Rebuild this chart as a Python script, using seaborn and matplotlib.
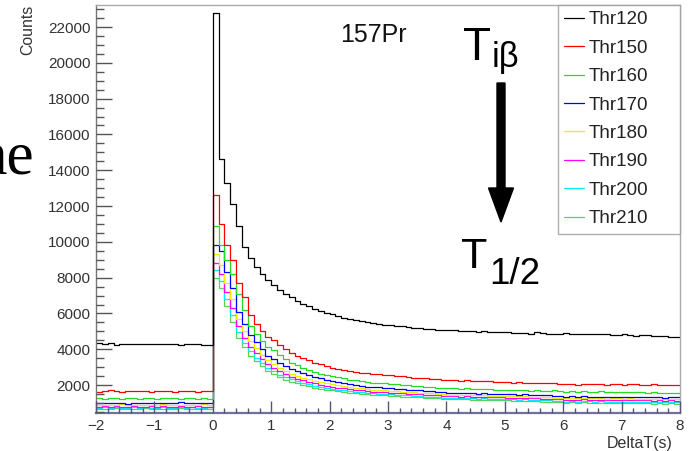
import numpy as np
import pandas as pd
import matplotlib
matplotlib.use("Agg")
import matplotlib.pyplot as plt
import seaborn as sns
from matplotlib.patches import FancyArrow
from matplotlib.transforms import IdentityTransform
from matplotlib.ticker import MultipleLocator

# ---------------- data (counts per 0.1 s bin, DeltaT from -2 to 8 s) ----------------
x_min, x_max, n_bins = -2.0, 8.0, 100

series_names = ["Thr120", "Thr150", "Thr160", "Thr170", "Thr180", "Thr190", "Thr200", "Thr210"]
series_colors = ["#000000", "#ff0000", "#22dd22", "#0000ff", "#eeee00", "#ff00ff", "#00eeee", "#59d454"]

thr120 = [4330, 4280, 4340, 4250, 4300, 4290, 4310, 4270, 4300, 4320, 4290, 4300, 4280, 4310, 4230, 4300, 4290, 4310, 4260, 4230,
          22800, 14600, 13300, 12100, 10900, 9700, 9100, 8600, 8200, 7850, 7600, 7300, 7100, 6900, 6700, 6550, 6400, 6250, 6150, 6050,
          5950, 5850, 5750, 5680, 5620, 5570, 5540, 5480, 5430, 5380, 5350, 5300, 5280, 5230, 5200, 5170, 5150, 5140, 5100, 5080, 5070,
          5060, 5040, 5010, 5000, 4980, 5020, 4960, 4950, 4940, 4990, 4920, 4910, 4900, 4880, 4950, 4890, 4880, 4870, 4860, 4900,
          4870, 4850, 4880, 4840, 4860, 4830, 4850, 4820, 4800, 4830, 4780, 4760, 4800, 4770, 4750, 4740, 4720, 4700, 4680]
thr150 = [1640, 1660, 1700, 1650, 1640, 1680, 1660, 1650, 1690, 1640, 1660, 1650, 1680, 1640, 1650, 1670, 1660, 1640, 1680, 1670,
          12600, 11000, 9800, 9000, 7700, 6900, 5900, 5400, 5000, 4700, 4500, 4250, 4000, 3800, 3650, 3500, 3380, 3260, 3150, 3060,
          2980, 2920, 2860, 2780, 2740, 2700, 2660, 2640, 2610, 2580, 2560, 2530, 2490, 2460, 2420, 2390, 2370, 2350, 2330, 2310, 2290,
          2270, 2250, 2290, 2230, 2210, 2200, 2240, 2180, 2170, 2150, 2140, 2160, 2120, 2110, 2130, 2100, 2090, 2120, 2080, 2070,
          2060, 2030, 2070, 2050, 2040, 2060, 2030, 2050, 2040, 2020, 2050, 2060, 2030, 2010, 2040, 2000, 1990, 2020, 1990]
thr160 = [1260, 1240, 1270, 1250, 1230, 1260, 1250, 1240, 1270, 1250, 1230, 1260, 1250, 1270, 1240, 1250, 1260, 1240, 1250, 1230,
          10900, 9800, 9000, 8200, 7100, 6200, 5300, 4850, 4450, 4150, 3950, 3700, 3450, 3250, 3100, 2950, 2830, 2720, 2640, 2560,
          2480, 2430, 2370, 2300, 2260, 2200, 2160, 2130, 2110, 2090, 2080, 2050, 2020, 1990, 1970, 1950, 1920, 1880, 1860, 1840, 1820,
          1810, 1800, 1830, 1780, 1770, 1760, 1790, 1750, 1740, 1720, 1710, 1730, 1700, 1690, 1710, 1680, 1670, 1700, 1660, 1640,
          1650, 1620, 1660, 1640, 1630, 1650, 1620, 1640, 1630, 1610, 1630, 1620, 1600, 1580, 1610, 1570, 1560, 1580, 1550]
thr170 = [980, 1010, 990, 1020, 1000, 970, 1010, 990, 1000, 1020, 980, 1010, 1000, 990, 1030, 1000, 980, 1010, 990, 1000,
          9800, 9500, 8300, 7400, 6100, 5400, 4800, 4400, 4000, 3650, 3450, 3250, 3050, 2900, 2760, 2650, 2540, 2450, 2370, 2300,
          2230, 2170, 2110, 2050, 2000, 1960, 1920, 1890, 1870, 1840, 1820, 1790, 1770, 1750, 1730, 1710, 1680, 1650, 1620, 1590, 1560,
          1560, 1540, 1570, 1530, 1520, 1540, 1510, 1500, 1520, 1490, 1480, 1470, 1490, 1450, 1440, 1430, 1420, 1400, 1380, 1360,
          1370, 1340, 1380, 1350, 1340, 1360, 1330, 1350, 1340, 1330, 1350, 1340, 1320, 1330, 1310, 1320, 1300, 1320, 1310]
thr180 = [890, 910, 880, 900, 920, 890, 900, 880, 910, 900, 890, 920, 900, 880, 900, 910, 890, 900, 920, 900,
          9300, 8700, 7700, 6800, 5700, 5000, 4450, 4050, 3700, 3400, 3150, 2950, 2780, 2640, 2520, 2420, 2320, 2240, 2160, 2100,
          2040, 1990, 1940, 1890, 1850, 1810, 1780, 1750, 1730, 1700, 1680, 1660, 1640, 1620, 1600, 1580, 1560, 1540, 1510, 1490, 1470,
          1460, 1440, 1470, 1430, 1420, 1440, 1410, 1400, 1410, 1390, 1380, 1370, 1380, 1350, 1340, 1330, 1320, 1300, 1290, 1260,
          1280, 1250, 1290, 1270, 1260, 1270, 1240, 1260, 1250, 1230, 1250, 1240, 1230, 1240, 1220, 1230, 1210, 1230, 1220]
thr190 = [800, 820, 790, 810, 800, 780, 810, 800, 790, 820, 800, 810, 790, 800, 820, 800, 790, 810, 800, 790,
          8800, 8200, 7200, 6300, 5300, 4650, 4150, 3780, 3450, 3180, 2950, 2760, 2600, 2470, 2360, 2260, 2170, 2100, 2030, 1970,
          1910, 1860, 1820, 1780, 1740, 1700, 1670, 1640, 1620, 1600, 1580, 1560, 1540, 1520, 1500, 1480, 1460, 1440, 1420, 1400, 1380,
          1370, 1350, 1380, 1340, 1330, 1350, 1320, 1310, 1320, 1300, 1290, 1280, 1290, 1260, 1250, 1240, 1230, 1210, 1200, 1170,
          1190, 1160, 1200, 1180, 1170, 1180, 1150, 1170, 1160, 1140, 1160, 1150, 1140, 1150, 1130, 1140, 1120, 1140, 1130]
thr200 = [740, 750, 730, 760, 740, 730, 750, 740, 760, 730, 740, 750, 740, 730, 760, 740, 750, 730, 740, 750,
          8400, 7800, 6800, 5900, 4950, 4350, 3880, 3530, 3230, 2980, 2760, 2590, 2440, 2320, 2210, 2120, 2040, 1970, 1910, 1850,
          1800, 1750, 1710, 1670, 1630, 1600, 1570, 1540, 1520, 1500, 1480, 1460, 1440, 1420, 1400, 1380, 1360, 1340, 1320, 1300, 1290,
          1280, 1260, 1290, 1250, 1240, 1260, 1230, 1220, 1230, 1210, 1200, 1190, 1200, 1170, 1160, 1150, 1140, 1120, 1110, 1080,
          1100, 1070, 1110, 1090, 1080, 1090, 1060, 1080, 1070, 1050, 1070, 1060, 1050, 1060, 1040, 1050, 1030, 1050, 1040]
thr210 = [680, 690, 670, 700, 680, 670, 690, 680, 700, 670, 680, 690, 680, 670, 700, 680, 690, 670, 680, 690,
          8000, 7400, 6400, 5550, 4650, 4100, 3650, 3320, 3040, 2800, 2600, 2440, 2300, 2190, 2090, 2000, 1930, 1860, 1800, 1750,
          1700, 1660, 1620, 1580, 1550, 1520, 1490, 1460, 1440, 1420, 1400, 1380, 1360, 1340, 1320, 1310, 1290, 1270, 1250, 1240, 1220,
          1210, 1200, 1220, 1180, 1170, 1190, 1160, 1150, 1160, 1140, 1130, 1120, 1130, 1100, 1090, 1080, 1070, 1050, 1040, 1010,
          1030, 1000, 1040, 1020, 1010, 1020, 990, 1010, 1000, 980, 1000, 990, 980, 990, 970, 980, 960, 980, 970]

series_values = [thr120, thr150, thr160, thr170, thr180, thr190, thr200, thr210]

y_ticks = [2000, 4000, 6000, 8000, 10000, 12000, 14000, 16000, 18000, 20000, 22000]
x_ticks = [-2, -1, 0, 1, 2, 3, 4, 5, 6, 7, 8]

# ---------------- build long table ----------------
edges = np.linspace(x_min, x_max, n_bins + 1)
centers = 0.5 * (edges[:-1] + edges[1:])
rows = []
for name, vals in zip(series_names, series_values):
    for c, v in zip(centers, vals):
        rows.append((name, float(c), float(v)))
df = pd.DataFrame(rows, columns=["Series", "DeltaT", "Counts"])

# ---------------- style ----------------
sns.set_theme(style="white")
plt.rcParams["font.family"] = ["Liberation Sans", "DejaVu Sans"]
plt.rcParams.update({
    "xtick.direction": "in", "ytick.direction": "in",
    "xtick.bottom": True, "ytick.left": True,
    "xtick.top": False, "ytick.right": False,
    "axes.axisbelow": False,
})

W, H = 690, 451
fig = plt.figure(figsize=(W / 100, H / 100), dpi=100)
ax = fig.add_axes([96 / W, 38 / H, 584 / W, 408 / H])

sns.histplot(data=df, x="DeltaT", weights="Counts", hue="Series", hue_order=series_names,
             palette=series_colors, bins=[float(e) for e in edges], element="step", fill=False,
             linewidth=0.9, ax=ax, legend=True)

ax.set_xlim(x_min, x_max)
ax.set_ylim(440, 23230)
ax.set_xticks(x_ticks)
ax.set_yticks(y_ticks)
ax.xaxis.set_minor_locator(MultipleLocator(0.2))
ax.yaxis.set_minor_locator(MultipleLocator(500))
ax.tick_params(axis="y", which="major", direction="in", length=11.5, width=1.0, color="#555555",
               labelsize=11, labelcolor="#333333", pad=4, left=True, right=False)
ax.tick_params(axis="y", which="minor", direction="in", length=5.8, width=1.0, color="#555555", left=True, right=False)
ax.tick_params(axis="x", which="major", direction="in", length=8.6, width=1.0, color="#555577",
               labelsize=11, labelcolor="#333333", pad=4, bottom=True, top=False)
ax.tick_params(axis="x", which="minor", direction="in", length=3.6, width=1.0, color="#555577", bottom=True, top=False)

for side in ["top", "right"]:
    ax.spines[side].set_color("#aaaaaa")
    ax.spines[side].set_linewidth(1.0)
ax.spines["left"].set_color("#777777")
ax.spines["left"].set_linewidth(1.0)
ax.spines["bottom"].set_color("#707098")
ax.spines["bottom"].set_linewidth(1.6)

ax.set_ylabel("Counts", loc="top", fontsize=11.4, color="#333333")
ax.yaxis.set_label_coords(-0.104, 1.0)
ax.set_xlabel("DeltaT(s)", loc="right", fontsize=11.5, color="#333333")
ax.xaxis.set_label_coords(0.988, -0.056)

sns.move_legend(ax, "upper left", bbox_to_anchor=(0.791, 0.0, 0.209, 1.0), mode="expand",
                title=None, frameon=True, fancybox=False, fontsize=13.5, handlelength=1.07,
                handletextpad=0.22, labelspacing=0.6, borderpad=0.34, borderaxespad=0.0)
leg = ax.get_legend()
leg.get_frame().set_edgecolor("#999999")
leg.get_frame().set_linewidth(1.0)
for t in leg.get_texts():
    t.set_color("#222222")

# ---------------- annotations (slide overlays) ----------------
fig.text(373 / W, 1 - 35 / H, "157Pr", fontsize=18, ha="center", va="center", color="#111111")
fig.text(463 / W, 1 - 60 / H, "T", fontsize=33, ha="left", va="baseline", color="black")
fig.text(492 / W, 1 - 67 / H, "iβ", fontsize=25, ha="left", va="baseline", color="black")
fig.text(461 / W, 1 - 268 / H, "T", fontsize=31, ha="left", va="baseline", color="black")
fig.text(489 / W, 1 - 284 / H, "1/2", fontsize=26.5, ha="left", va="baseline", color="black")
fig.text(34 / W, 1 - 174 / H, "ne", fontsize=44, ha="right", va="baseline",
         family="Liberation Serif", color="black")

arrow = FancyArrow(501, H - 83, 0, -139, width=8, head_width=25, head_length=34,
                   length_includes_head=True, color="black", transform=IdentityTransform())
fig.add_artist(arrow)

fig.savefig("out.png", dpi=100)
